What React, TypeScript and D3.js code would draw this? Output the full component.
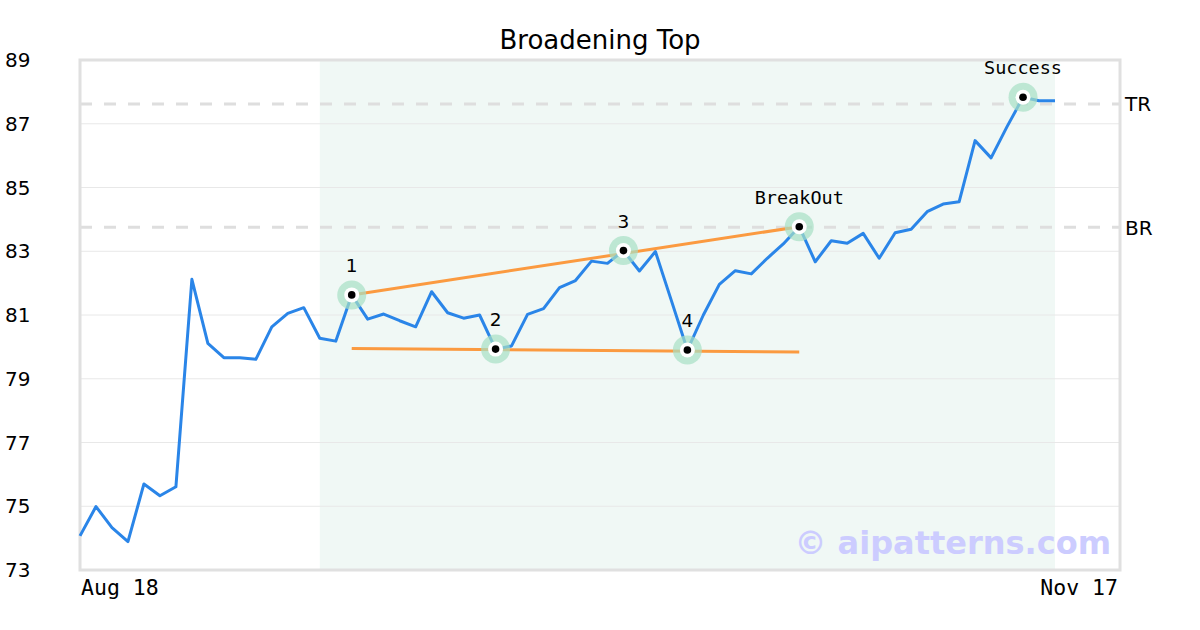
import React from "react";
import * as d3 from "d3";

const values: number[] = [
  74.07, 74.99, 74.33, 73.89, 75.7, 75.33, 75.61, 82.12, 80.11, 79.66,
  79.66, 79.61, 80.63, 81.05, 81.23, 80.27, 80.18, 81.63, 80.87, 81.03,
  80.82, 80.63, 81.73, 81.07, 80.9, 81.0, 79.93, 80.03, 81.02, 81.2,
  81.86, 82.08, 82.69, 82.62, 83.02, 82.38, 82.99, 81.45, 79.9, 81.0,
  81.96, 82.39, 82.29, 82.78, 83.23, 83.77, 82.67, 83.33, 83.25, 83.56,
  82.78, 83.58, 83.69, 84.24, 84.48, 84.55, 86.47, 85.93, 86.91, 87.83,
  87.72, 87.72,
];
const yTicks: number[] = [73, 75, 77, 79, 81, 83, 85, 87, 89];
const xLabels: string[] = ["Aug 18", "Nov 17"];
const markers: { i: number; label: string }[] = [
  { i: 17, label: "1" },
  { i: 26, label: "2" },
  { i: 34, label: "3" },
  { i: 38, label: "4" },
  { i: 45, label: "BreakOut" },
  { i: 59, label: "Success" },
];
const levels: { v: number; label: string }[] = [
  { v: 87.62, label: "TR" },
  { v: 83.75, label: "BR" },
];
const upperTrend: [number, number][] = [
  [17, 81.63],
  [45, 83.77],
];
const lowerTrend: [number, number][] = [
  [17, 79.95],
  [45, 79.84],
];
const shadeRange: [number, number] = [15, 61];

export default function App() {
  const W = 1200, H = 630;
  const L = 80, R = 1120, T = 60, B = 570;
  const x = d3.scaleLinear().domain([0, values.length - 1]).range([L, 1055]);
  const y = d3.scaleLinear().domain([73, 89]).range([B, T]);
  const line = d3
    .line<number>()
    .x((_, i) => x(i))
    .y((d) => y(d));
  const tl = d3
    .line<[number, number]>()
    .x((d) => x(d[0]))
    .y((d) => y(d[1]));
  const sans = "DejaVu Sans, sans-serif";
  const mono = "DejaVu Sans Mono, monospace";
  return (
    <svg width={W} height={H} style={{ position: "absolute", left: 0, top: 0 }}>
      <rect x={0} y={0} width={W} height={H} fill="#fff" />
      <rect
        x={x(shadeRange[0])}
        y={T}
        width={x(shadeRange[1]) - x(shadeRange[0])}
        height={B - T}
        fill="#f0f8f5"
      />
      {yTicks.map((t) => (
        <g key={t}>
          <line x1={L} x2={R} y1={y(t)} y2={y(t)} stroke="#e8e8e8" strokeWidth={1} />
          <text x={5} y={y(t)} dy="0.35em" fontFamily={sans} fontSize={20} fill="#000">
            {t}
          </text>
        </g>
      ))}
      {levels.map((lv) => (
        <g key={lv.label}>
          <line
            x1={L}
            x2={R}
            y1={y(lv.v)}
            y2={y(lv.v)}
            stroke="#dedede"
            strokeWidth={3}
            strokeDasharray="12,12"
          />
          <text x={1125} y={y(lv.v)} dy="0.36em" fontFamily={sans} fontSize={20} fill="#000">
            {lv.label}
          </text>
        </g>
      ))}
      <rect x={L} y={T} width={R - L} height={B - T} fill="none" stroke="#e0e0e0" strokeWidth={3} />
      <text
        x={1111}
        y={554}
        textAnchor="end"
        fontFamily={sans}
        fontWeight="bold"
        fontSize={32}
        fill="#ccccff"
      >
        © aipatterns.com
      </text>
      <path d={tl(upperTrend) || ""} fill="none" stroke="#fb9a40" strokeWidth={3} />
      <path d={tl(lowerTrend) || ""} fill="none" stroke="#fb9a40" strokeWidth={3} />
      <path d={line(values) || ""} fill="none" stroke="#2a85e8" strokeWidth={3} strokeLinejoin="round" />
      {markers.map((m) => {
        const cx = x(m.i), cy = y(values[m.i]);
        const isWord = m.label.length > 1;
        return (
          <g key={m.label}>
            <circle cx={cx} cy={cy} r={14.5} fill="#a6e0c4" fillOpacity={0.7} />
            <circle cx={cx} cy={cy} r={7.5} fill="#fff" />
            <circle cx={cx} cy={cy} r={3.8} fill="#000" />
            <text
              x={cx}
              y={cy - 23}
              textAnchor="middle"
              fontFamily={isWord ? mono : sans}
              fontSize={18.5}
              fill="#000"
            >
              {m.label}
            </text>
          </g>
        );
      })}
      <text x={81} y={595} fontFamily={mono} fontSize={21.5} fill="#000">
        {xLabels[0]}
      </text>
      <text x={1118} y={595} textAnchor="end" fontFamily={mono} fontSize={21.5} fill="#000">
        {xLabels[1]}
      </text>
      <text x={600} y={49} textAnchor="middle" fontFamily={sans} fontSize={26} fill="#000">
        Broadening Top
      </text>
    </svg>
  );
}
